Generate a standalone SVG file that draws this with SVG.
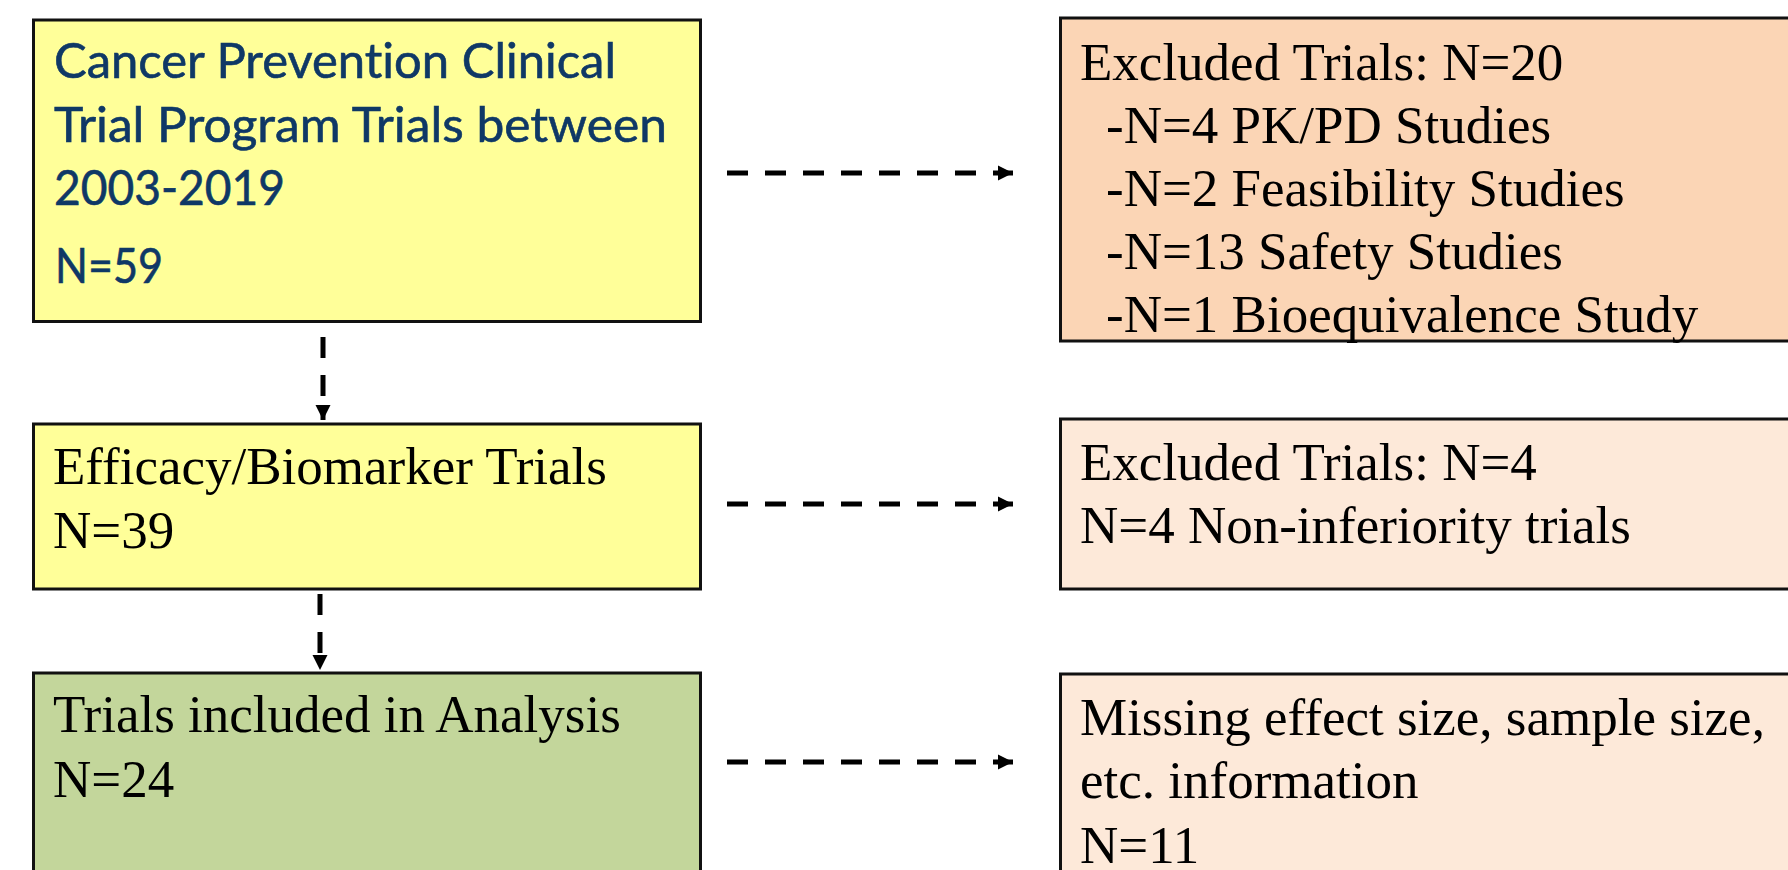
<svg xmlns="http://www.w3.org/2000/svg" width="1788" height="870" viewBox="0 0 1788 870">
<style>
.box{stroke:#111;stroke-width:3}
.yellow{fill:#FFFF99}
.green{fill:#C3D69B}
.salmon{fill:#FBD5B5}
.peach{fill:#FDE9D9}
.serif{font-family:"Liberation Serif","Times New Roman",serif;font-size:53px;fill:#000;font-variant-ligatures:none}
.sans{font-family:Lato,"Open Sans",sans-serif;font-size:48px;fill:#0F3866;font-variant-ligatures:none;stroke:#0F3866;stroke-width:0.6}
.conn{stroke:#000;stroke-width:5;stroke-dasharray:21 17;fill:none}
</style>
<defs>
<marker id="ah" markerUnits="userSpaceOnUse" markerWidth="16" markerHeight="16" refX="15" refY="8" orient="auto">
<path d="M0,0.5 L15,8 L0,15.5 Z" fill="#000"/>
</marker>
</defs>
<rect width="1788" height="870" fill="#fff"/>
<g id="node-cpctp">
<rect class="box yellow" x="33.5" y="20" width="667" height="301.5"/>
<text class="sans" x="54" y="78" textLength="562" lengthAdjust="spacingAndGlyphs">Cancer Prevention Clinical</text>
<text class="sans" x="54" y="142" textLength="613" lengthAdjust="spacingAndGlyphs">Trial Program Trials between</text>
<text class="sans" x="54" y="205" textLength="231" lengthAdjust="spacingAndGlyphs">2003-2019</text>
<text class="sans" x="55" y="283" textLength="108" lengthAdjust="spacingAndGlyphs">N=59</text>
</g>
<g id="node-efficacy">
<rect class="box yellow" x="33.5" y="424" width="667" height="165"/>
<text class="serif" x="53" y="484">Efficacy/Biomarker Trials</text>
<text class="serif" x="53" y="548">N=39</text>
</g>
<g id="node-included">
<rect class="box green" x="33.5" y="673" width="667" height="220"/>
<text class="serif" x="53" y="732">Trials included in Analysis</text>
<text class="serif" x="53" y="797">N=24</text>
</g>
<g id="node-excluded20">
<rect class="box salmon" x="1060.5" y="18" width="760" height="323"/>
<text class="serif" x="1080" y="80">Excluded Trials: N=20</text>
<text class="serif" x="1106" y="143">-N=4 PK/PD Studies</text>
<text class="serif" x="1106" y="206">-N=2 Feasibility Studies</text>
<text class="serif" x="1106" y="269">-N=13 Safety Studies</text>
<text class="serif" x="1106" y="332">-N=1 Bioequivalence Study</text>
</g>
<g id="node-excluded4">
<rect class="box peach" x="1060.5" y="419" width="760" height="170"/>
<text class="serif" x="1080" y="480">Excluded Trials: N=4</text>
<text class="serif" x="1080" y="543">N=4 Non-inferiority trials</text>
</g>
<g id="node-missing">
<rect class="box peach" x="1060.5" y="674" width="760" height="220"/>
<text class="serif" x="1080" y="735">Missing effect size, sample size,</text>
<text class="serif" x="1080" y="798">etc. information</text>
<text class="serif" x="1080" y="863">N=11</text>
</g>
<g id="connectors">
<path class="conn" d="M727,173 L1013,173" marker-end="url(#ah)"/>
<path class="conn" d="M727,504 L1013,504" marker-end="url(#ah)"/>
<path class="conn" d="M727,762 L1013,762" marker-end="url(#ah)"/>
<path class="conn" d="M323,337 L323,420" marker-end="url(#ah)"/>
<path class="conn" d="M320,594 L320,670" marker-end="url(#ah)"/>
</g>
</svg>
